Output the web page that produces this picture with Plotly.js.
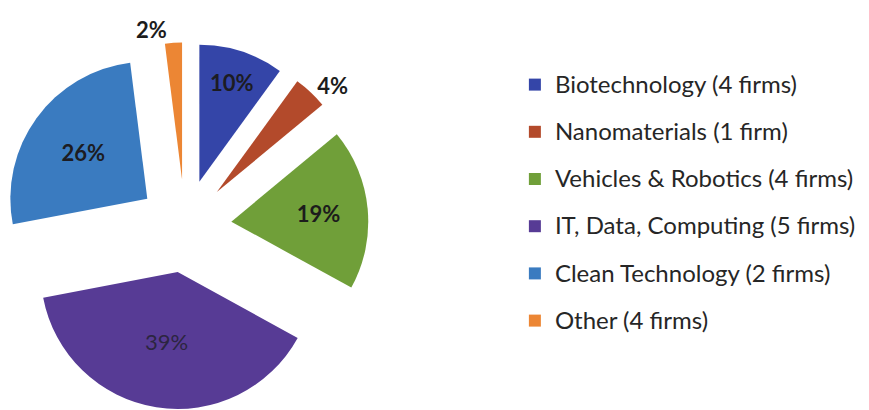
<!DOCTYPE html>
<html>
<head>
<meta charset="utf-8">
<script src="https://cdn.plot.ly/plotly-3.0.1.min.js"></script>
<style>
  html, body { margin: 0; padding: 0; background: #ffffff; }
  #chart { width: 869px; height: 410px; }
</style>
</head>
<body>
<div id="chart"></div>
<script>
// Share of portfolio by sector, clockwise from 12 o'clock
const sectors = [
  'Biotechnology',
  'Nanomaterials',
  'Vehicles & Robotics',
  'IT, Data, Computing',
  'Clean Technology',
  'Other'
];
const firmCounts = [4, 1, 4, 5, 2, 4];
const sharePercent = [10, 4, 19, 39, 26, 2];

const sliceColors = ['#3445a8', '#b34a2b', '#709f39', '#573b95', '#3a7bc0', '#ec8634'];

// legend entries: "Sector (n firms)"
const legendLabels = sectors.map((s, i) =>
  `<span style="font-size:24px;baseline-shift:5px">${s} (${firmCounts[i]} firm${firmCounts[i] === 1 ? '' : 's'})</span>`
);

const trace = {
  type: 'pie',
  labels: legendLabels,
  values: sharePercent,
  sort: false,
  direction: 'clockwise',
  rotation: 0,
  pull: 0.34,
  marker: { colors: sliceColors, line: { width: 0 } },
  texttemplate: '%{value}%',
  textposition: ['inside', 'outside', 'inside', 'inside', 'inside', 'outside'],
  insidetextorientation: 'horizontal',
  textfont: {
    family: 'Lato, "Open Sans", sans-serif',
    size: 22,
    color: ['#1c1c22', '#1c1c1c', '#1c1c1c', '#2c2540', '#1c1c22', '#1c1c1c'],
    weight: [700, 700, 700, 400, 700, 700]
  },
  hoverinfo: 'none',
  domain: { x: [0.0017, 0.424], y: [0.0012, 0.8963] }
};

const layout = {
  width: 869,
  height: 410,
  margin: { l: 0, r: 0, t: 0, b: 0 },
  paper_bgcolor: '#ffffff',
  showlegend: true,
  legend: {
    x: 0.5925,
    y: 0.8634,
    xanchor: 'left',
    yanchor: 'top',
    font: { family: 'Lato, "Open Sans", sans-serif', size: 34, color: '#262626' },
    bgcolor: 'rgba(0,0,0,0)',
    borderwidth: 0
  }
};

Plotly.newPlot('chart', [trace], layout, { displayModeBar: false, staticPlot: true });
</script>
</body>
</html>
